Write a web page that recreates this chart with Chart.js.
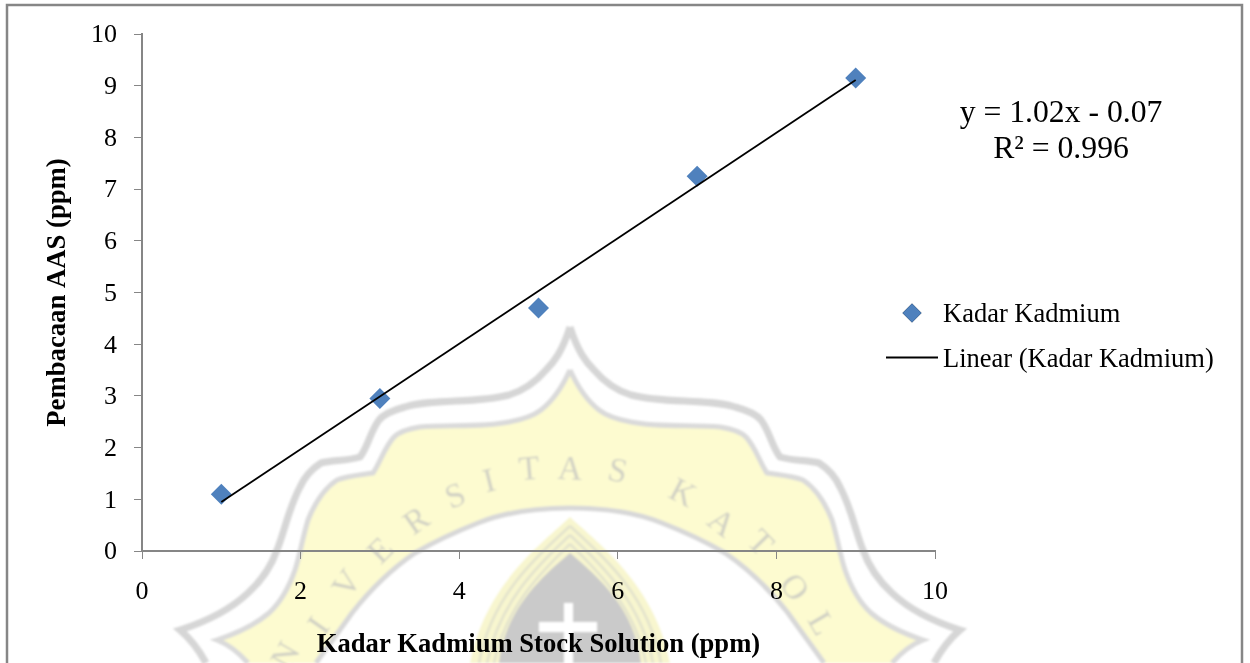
<!DOCTYPE html>
<html>
<head>
<meta charset="utf-8">
<script src="https://cdn.jsdelivr.net/npm/chart.js@4"></script>
<style>
  html, body { margin: 0; background: #fff; overflow: hidden; }
  #wrap { position: relative; width: 1250px; height: 663px; }
  #wrap svg, #wrap canvas { position: absolute; left: 0; top: 0; }
</style>
</head>
<body>
<div id="wrap">
  <!-- university watermark behind the chart, right half mirrored around x=570 -->
  <svg width="1250" height="663" viewBox="0 0 1250 663">
    <defs>
      <filter id="soft"><feGaussianBlur stdDeviation="0.8"/></filter>
      <g id="half">
        <path d="M570 327 C578 352 586 362 594 370 C606 384 618 391 631 395 C665 404 705 398 735 407 C750 411 757 415 761 420 C770 432 772 447 780 457 C793 461 808 460 819 463 C830 470 836 478 840 487 C852 510 855 530 863 550 C870 570 880 582 892 593 C910 610 935 622 960 630 C948 640 940 652 934 663" fill="none" stroke="#d6d6d6" stroke-width="7"/>
        <path d="M570 370 C580 392 590 403 599 410 C608 417 620 420 631 422 C660 428 695 424 720 427 C733 429 741 432 746 437 C756 448 760 463 767 473 C780 475 793 476 803 480 C818 490 826 505 832 520 C838 540 840 555 845 570 C852 590 860 603 871 613 C885 625 905 634 923 640 C910 645 900 654 892 663 L570 663 Z" fill="#fdfbd0"/>
        <path d="M570 370 C580 392 590 403 599 410 C608 417 620 420 631 422 C660 428 695 424 720 427 C733 429 741 432 746 437 C756 448 760 463 767 473 C780 475 793 476 803 480 C818 490 826 505 832 520 C838 540 840 555 845 570 C852 590 860 603 871 613 C885 625 905 634 923 640 C910 645 900 654 892 663" fill="none" stroke="#dadada" stroke-width="5"/>
        <path d="M570 508 C605 508 635 512 662 523 C690 534 708 543 725 553 C750 570 770 590 788 613 C800 630 815 650 824 663 L570 663 Z" fill="#fff"/>
        <path d="M570 508 C605 508 635 512 662 523 C690 534 708 543 725 553 C750 570 770 590 788 613 C800 630 815 650 824 663" fill="none" stroke="#d8d8d8" stroke-width="5"/>
        <path d="M570 517 C600 545 655 585 670 663 L570 663 Z" fill="#f8f6cf"/>
        <path d="M570 526 C598 552 648 592 661 663 M570 535 C596 560 640 598 653 663 M570 544 C594 568 634 604 646 663" fill="none" stroke="#e2e2cc" stroke-width="2.5"/>
        <path d="M570 553 C600 578 635 610 641 663 L570 663 Z" fill="#cacaca"/>
      </g>
    </defs>
    <g filter="url(#soft)">
      <use href="#half"/>
      <use href="#half" transform="matrix(-1 0 0 1 1140 0)"/>
      <path d="M564 603 H573 V622 H597 V632 H573 V663 H564 V632 H539 V622 H564 Z" fill="#fff"/>
      <g font-family="Liberation Serif" font-size="34" fill="#d2d2c4" text-anchor="middle" dominant-baseline="central">
        <text transform="translate(285 655) rotate(-60)">N</text>
        <text transform="translate(318 625) rotate(-55)">I</text>
        <text transform="translate(346 583) rotate(-55)">V</text>
        <text transform="translate(380 550) rotate(-45)">E</text>
        <text transform="translate(416 520) rotate(-35)">R</text>
        <text transform="translate(455 495) rotate(-22)">S</text>
        <text transform="translate(489 480) rotate(-14)">I</text>
        <text transform="translate(529 468) rotate(-5)">T</text>
        <text transform="translate(570 468) rotate(3)">A</text>
        <text transform="translate(618 470) rotate(12)">S</text>
        <text transform="translate(683 492) rotate(28)">K</text>
        <text transform="translate(722 522) rotate(38)">A</text>
        <text transform="translate(761 542) rotate(46)">T</text>
        <text transform="translate(795 587) rotate(54)">O</text>
        <text transform="translate(822 623) rotate(60)">L</text>
      </g>
    </g>
  </svg>
  <canvas id="chart" width="1250" height="663"></canvas>
</div>
<script>
const stockPpm = [1, 3, 5, 7, 9]
const aasPpm = [1.1, 2.95, 4.7, 7.25, 9.15]
const trendX = [1, 9]
const trendY = [0.95, 9.11]
const equationLines = ['y = 1.02x - 0.07', 'R² = 0.996']

const AXIS_GREY = '#868686'
const MARKER_BLUE = '#4f81bd'
const SERIF = '"Liberation Serif", "Times New Roman", serif'

// outer frame, equation and the legend sit over the plot so they are drawn by hand
const sideNotes = {
  id: 'sideNotes',
  afterDraw(chart) {
    const ctx = chart.ctx
    const datasets = chart.data.datasets
    ctx.save()

    ctx.strokeStyle = AXIS_GREY
    ctx.lineWidth = 2.5
    ctx.beginPath()
    ctx.moveTo(7, 663)
    ctx.lineTo(7, 5)
    ctx.lineTo(1242, 5)
    ctx.lineTo(1242, 663)
    ctx.stroke()

    ctx.fillStyle = '#000'
    ctx.textBaseline = 'middle'
    ctx.textAlign = 'center'
    ctx.font = '31.7px ' + SERIF
    ctx.fillText(equationLines[0], 1061, 114)
    ctx.fillText(equationLines[1], 1061, 150)

    ctx.textAlign = 'left'
    ctx.font = '26.5px ' + SERIF
    ctx.fillText(datasets[0].label, 943, 315)
    ctx.fillText(datasets[1].label, 943, 360)

    Chart.helpers.drawPoint(ctx, { pointStyle: 'rectRot', radius: 9.5, borderWidth: 0 }, 912, 313)
    ctx.fillStyle = MARKER_BLUE
    ctx.fill()

    ctx.strokeStyle = '#000'
    ctx.lineWidth = 1.8
    ctx.beginPath()
    ctx.moveTo(886, 357.5)
    ctx.lineTo(938, 357.5)
    ctx.stroke()
    ctx.restore()
  },
}

new Chart(document.getElementById('chart'), {
  type: 'scatter',
  data: {
    datasets: [
      {
        label: 'Kadar Kadmium',
        data: stockPpm.map((x, i) => ({ x, y: aasPpm[i] })),
        pointStyle: 'rectRot',
        pointRadius: 10.5,
        pointBackgroundColor: MARKER_BLUE,
        pointBorderWidth: 0,
        order: 2,
      },
      {
        label: 'Linear (Kadar Kadmium)',
        data: trendX.map((x, i) => ({ x, y: trendY[i] })),
        showLine: true,
        borderColor: '#000',
        borderWidth: 1.8,
        pointRadius: 0,
        order: 1,
      },
    ],
  },
  options: {
    responsive: false,
    animation: false,
    layout: { padding: { top: 34, right: 315 } },
    plugins: { legend: { display: false }, tooltip: { enabled: false } },
    scales: {
      x: {
        type: 'linear',
        min: 0,
        max: 10,
        ticks: { stepSize: 2, color: '#000', padding: 18, maxRotation: 0, font: { family: SERIF, size: 26 } },
        grid: { drawOnChartArea: false, color: AXIS_GREY, tickLength: 8 },
        border: { color: AXIS_GREY, width: 2 },
        title: {
          display: true,
          text: 'Kadar Kadmium Stock Solution (ppm)',
          color: '#000',
          padding: { top: 14 },
          font: { family: SERIF, size: 26.6, weight: 'bold', lineHeight: 1.05 },
        },
        afterFit: (scale) => { scale.height = 112 },
      },
      y: {
        min: 0,
        max: 10,
        ticks: { stepSize: 1, color: '#000', padding: 17, labelOffset: 1.5, font: { family: SERIF, size: 26 } },
        grid: { drawOnChartArea: false, color: AXIS_GREY, tickLength: 8 },
        border: { color: AXIS_GREY, width: 2 },
        title: {
          display: true,
          text: 'Pembacaan AAS (ppm)',
          color: '#000',
          padding: { top: 42 },
          font: { family: SERIF, size: 26.7, weight: 'bold' },
        },
        afterFit: (scale) => { scale.width = 142 },
      },
    },
  },
  plugins: [sideNotes],
})
</script>
</body>
</html>
